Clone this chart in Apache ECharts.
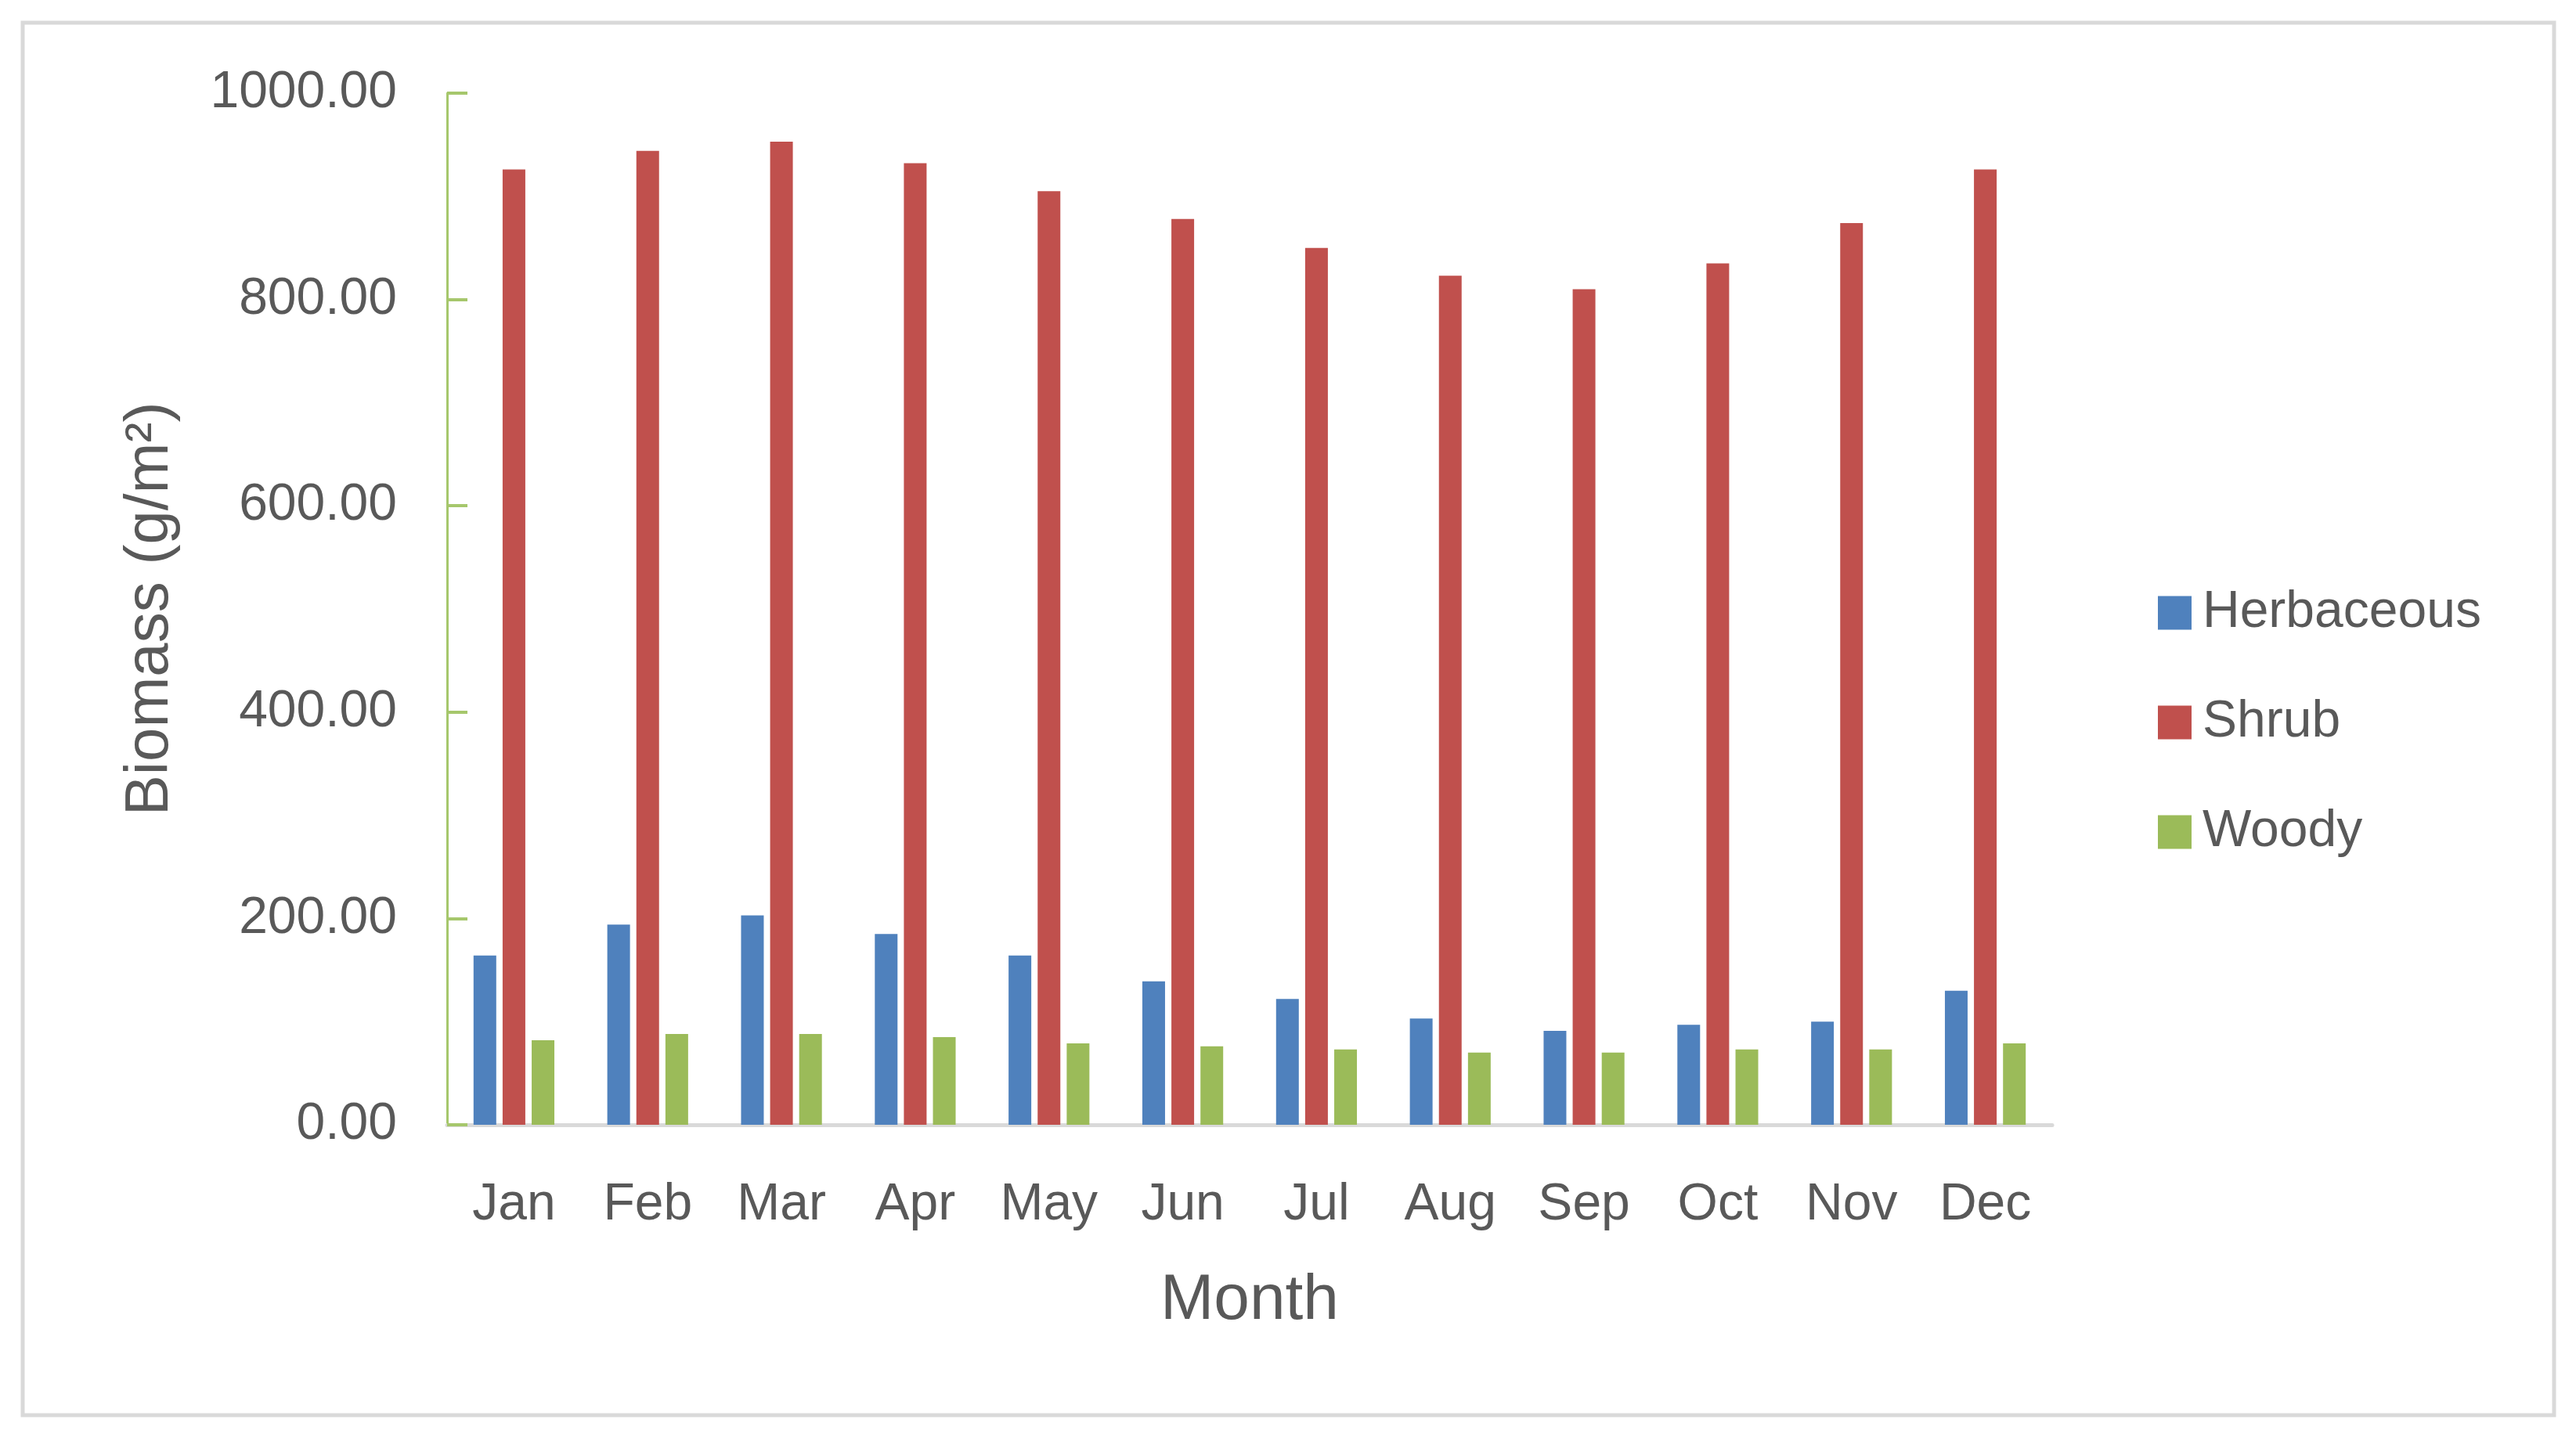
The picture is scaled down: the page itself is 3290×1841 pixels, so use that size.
<!DOCTYPE html>
<html>
<head>
<meta charset="utf-8">
<script src="https://cdn.jsdelivr.net/npm/echarts@6/dist/echarts.min.js"></script>
<style>
html,body{margin:0;padding:0;background:#fff;}
#chart{width:3290px;height:1841px;}
</style>
</head>
<body>
<div id="chart"></div>
<script>
const months = ['Jan','Feb','Mar','Apr','May','Jun','Jul','Aug','Sep','Oct','Nov','Dec'];
const herbaceous = [164, 194, 203, 185, 164, 139, 122, 103, 91, 97, 100, 130];
const shrub = [926, 944, 953, 932, 905, 878, 850, 823, 810, 835, 874, 926];
const woody = [82, 88, 88, 85, 79, 76, 73, 70, 70, 73, 73, 79];
const yTicks = [0, 200, 400, 600, 800, 1000];

const FONT = '"Liberation Sans", Arial, sans-serif';
const GREY = '#595959';

const chart = echarts.init(document.getElementById('chart'));
chart.setOption({
  animation: false,
  backgroundColor: '#ffffff',
  textStyle: { fontFamily: FONT },
  graphic: [{
    type: 'rect',
    shape: { x: 29, y: 29, width: 3233, height: 1779 },
    style: { fill: 'none', stroke: '#d9d9d9', lineWidth: 5 },
    silent: true, z: -10
  }],
  grid: { left: 571, top: 119, right: 669, bottom: 404, containLabel: false },
  legend: {
    orient: 'vertical',
    left: 2751,
    top: 745,
    itemWidth: 43,
    itemHeight: 43,
    itemGap: 74,
    icon: 'rect',
    textStyle: { fontFamily: FONT, fontSize: 66, color: GREY, padding: [0, 0, 0, 9] },
    data: ['Herbaceous', 'Shrub', 'Woody']
  },
  xAxis: {
    type: 'category',
    data: months,
    name: 'Month',
    nameLocation: 'middle',
    nameGap: 184,
    nameTextStyle: { fontFamily: FONT, fontSize: 82, color: GREY },
    axisLine: { lineStyle: { color: '#d9d9d9', width: 5 } },
    axisTick: { show: false },
    axisLabel: { fontFamily: FONT, fontSize: 66, color: GREY, margin: 70 },
    splitLine: { show: false }
  },
  yAxis: {
    type: 'value',
    min: yTicks[0],
    max: yTicks[yTicks.length - 1],
    interval: yTicks[1] - yTicks[0],
    name: 'Biomass (g/m²)',
    nameLocation: 'middle',
    nameGap: 340,
    nameTextStyle: { fontFamily: FONT, fontSize: 78, color: GREY },
    axisLine: { show: true, lineStyle: { color: '#a6c76c', width: 3 } },
    axisTick: { show: true, inside: true, length: 26, lineStyle: { color: '#a6c76c', width: 4 } },
    axisLabel: { fontFamily: FONT, fontSize: 66, color: GREY, margin: 64, formatter: v => v.toFixed(2) },
    splitLine: { show: false }
  },
  series: [
    { name: 'Herbaceous', type: 'bar', data: herbaceous, barWidth: 29, barGap: '28%',
      itemStyle: { color: '#4f81bd' } },
    { name: 'Shrub', type: 'bar', data: shrub, barWidth: 29, barGap: '28%',
      itemStyle: { color: '#c0504d' } },
    { name: 'Woody', type: 'bar', data: woody, barWidth: 29, barGap: '28%',
      itemStyle: { color: '#9bbb59' } }
  ]
});
</script>
</body>
</html>
